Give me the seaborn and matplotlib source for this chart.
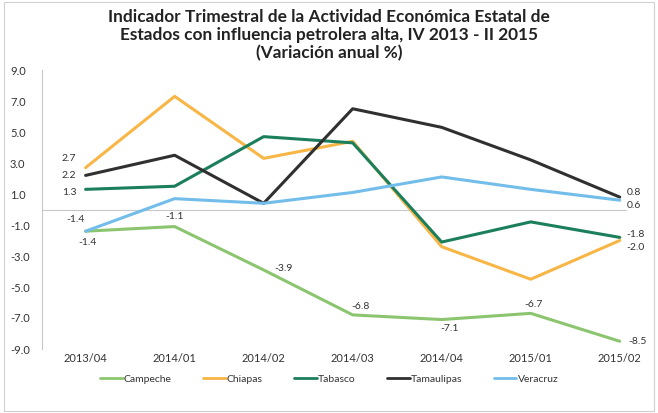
import pandas as pd
import matplotlib.pyplot as plt
import seaborn as sns
from matplotlib.lines import Line2D
from matplotlib.patches import Rectangle

# 🔹 Data
quarters = ['2013/04', '2014/01', '2014/02', '2014/03', '2014/04', '2015/01', '2015/02']
campeche = [-1.4, -1.1, -3.9, -6.8, -7.1, -6.7, -8.5]
chiapas = [2.7, 7.3, 3.3, 4.4, -2.4, -4.5, -2.0]
tabasco = [1.3, 1.5, 4.7, 4.3, -2.1, -0.8, -1.8]
tamaulipas = [2.2, 3.5, 0.4, 6.5, 5.3, 3.2, 0.8]
veracruz = [-1.4, 0.7, 0.4, 1.1, 2.1, 1.3, 0.6]

states = ['Campeche', 'Chiapas', 'Tabasco', 'Tamaulipas', 'Veracruz']
colors = ['#8cc56f', '#f8b647', '#1b7f5c', '#303030', '#72bde9']
series = [campeche, chiapas, tabasco, tamaulipas, veracruz]

df = pd.DataFrame({
    'trimestre': quarters * len(states),
    'estado': [s for s in states for _ in quarters],
    'valor': [v for vals in series for v in vals],
})

sns.set_style('white')
plt.rcParams['font.family'] = ['Lato', 'DejaVu Sans']

fig = plt.figure(figsize=(6.58, 4.13), dpi=100)
ax = fig.add_axes([42 / 658, 1 - 349 / 413, 608 / 658, 279 / 413])

sns.lineplot(data=df, x='trimestre', y='valor', hue='estado',
             palette=dict(zip(states, colors)), linewidth=2.2,
             sort=False, legend=False, ax=ax)

ax.set_xlim(-0.49, 6.34)
ax.set_ylim(-9, 9)
ax.set_yticks(range(-9, 10, 2))
ax.set_yticklabels([f'{v:.1f}' for v in range(-9, 10, 2)], fontsize=8, color='#333333')
ax.tick_params(axis='x', labelsize=8, colors='#333333', length=0, pad=3)
ax.tick_params(axis='y', length=0, pad=23)
for lbl in ax.get_yticklabels():
    lbl.set_horizontalalignment('left')
ax.set_xlabel('')
ax.set_ylabel('')
for side in ['top', 'right', 'bottom']:
    ax.spines[side].set_visible(False)
ax.spines['left'].set_color('#c8c8c8')
ax.spines['left'].set_linewidth(0.8)
ax.axhline(0, color='#c8c8c8', linewidth=0.8, xmax=0.96, zorder=0)

# 🔹 Data labels
lab = dict(fontsize=7.5, color='#333333')
ax.annotate('2.7', (0, chiapas[0]), xytext=(-12, 3), textcoords='offset points', ha='center', va='bottom', **lab)
ax.annotate('2.2', (0, tamaulipas[0]), xytext=(-12, 0), textcoords='offset points', ha='center', va='center', **lab)
ax.annotate('1.3', (0, tabasco[0]), xytext=(-12, -2), textcoords='offset points', ha='center', va='center', **lab)
ax.annotate('-1.4', (0, veracruz[0]), xytext=(-7, 5), textcoords='offset points', ha='center', va='bottom', **lab)
ax.annotate('-1.4', (0, campeche[0]), xytext=(1, -5), textcoords='offset points', ha='center', va='top', **lab)
ax.annotate('-1.1', (1, campeche[1]), xytext=(0, 4), textcoords='offset points', ha='center', va='bottom', **lab)
ax.annotate('-3.9', (2, campeche[2]), xytext=(14, 1), textcoords='offset points', ha='center', va='center', **lab)
ax.annotate('-6.8', (3, campeche[3]), xytext=(6, 3), textcoords='offset points', ha='center', va='bottom', **lab)
ax.annotate('-7.1', (4, campeche[4]), xytext=(6, -3), textcoords='offset points', ha='center', va='top', **lab)
ax.annotate('-6.7', (5, campeche[5]), xytext=(2, 3), textcoords='offset points', ha='center', va='bottom', **lab)
ax.annotate('-8.5', (6, campeche[6]), xytext=(6, 0), textcoords='offset points', ha='left', va='center', **lab)
ax.annotate('0.8', (6, tamaulipas[6]), xytext=(5, 3), textcoords='offset points', ha='left', va='center', **lab)
ax.annotate('0.6', (6, veracruz[6]), xytext=(5, -4), textcoords='offset points', ha='left', va='center', **lab)
ax.annotate('-1.8', (6, tabasco[6]), xytext=(5, 2), textcoords='offset points', ha='left', va='center', **lab)
ax.annotate('-2.0', (6, chiapas[6]), xytext=(5, -5), textcoords='offset points', ha='left', va='center', **lab)

# 🔹 Title
fig.text(0.5, 1 - 9 / 413,
         'Indicador Trimestral de la Actividad Económica Estatal de\n'
         'Estados con influencia petrolera alta, IV 2013 - II 2015\n'
         '(Variación anual %)',
         ha='center', va='top', fontsize=12.4, fontweight='bold',
         color='#222222', linespacing=1.16)

# 🔹 Legend
handles = [Line2D([0], [0], color=c, linewidth=2) for c in colors]
fig.legend(handles, states, loc='center', bbox_to_anchor=(0.5, 1 - 379 / 413),
           ncol=5, frameon=False, fontsize=7.5, handlelength=2.2,
           handletextpad=0.1, columnspacing=3.0, labelcolor='#333333')

fig.patches.append(Rectangle((0.006, 0.006), 0.988, 0.988, transform=fig.transFigure,
                             fill=False, edgecolor='#d0d0d0', linewidth=0.8))

fig.savefig('out.png', dpi=100)
